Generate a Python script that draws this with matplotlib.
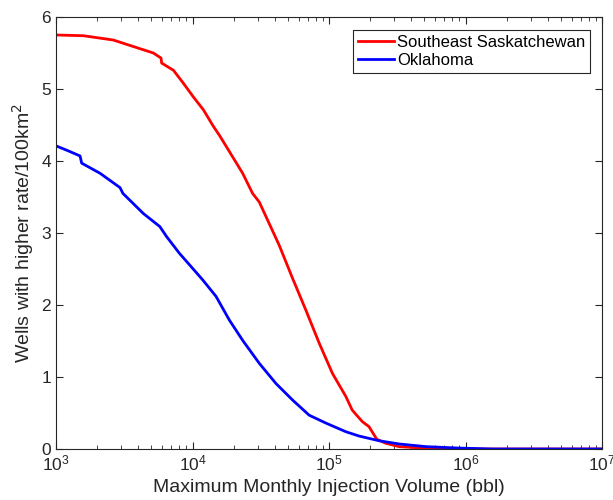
import matplotlib
matplotlib.use('Agg')
import matplotlib.pyplot as plt
import numpy as np

plt.rcParams['font.family'] = ['Liberation Sans', 'DejaVu Sans']

# log10 of injection volume and wells per 100 km^2
sask_logx = [3.0, 3.2, 3.42, 3.566, 3.713, 3.769, 3.774, 3.86, 3.933, 4.006, 4.08,
             4.153, 4.196, 4.293, 4.367, 4.44, 4.489, 4.562, 4.635, 4.733, 4.83,
             4.928, 5.025, 5.123, 5.17, 5.244, 5.293, 5.35, 5.415, 5.513, 5.708,
             6.0, 7.0]
sask_y = [5.75, 5.74, 5.68, 5.59, 5.50, 5.43, 5.36, 5.26, 5.08, 4.89, 4.71,
          4.48, 4.36, 4.06, 3.83, 3.55, 3.43, 3.13, 2.83, 2.37, 1.93,
          1.47, 1.05, 0.73, 0.54, 0.38, 0.31, 0.135, 0.08, 0.033, 0.01,
          0.0, 0.0]

okla_logx = [3.0, 3.078, 3.176, 3.188, 3.322, 3.469, 3.49, 3.64, 3.76, 3.81,
             3.903, 3.977, 4.074, 4.172, 4.27, 4.367, 4.489, 4.611, 4.733, 4.854,
             4.977, 5.123, 5.22, 5.366, 5.513, 5.708, 5.95, 6.2, 7.0]
okla_y = [4.21, 4.15, 4.07, 3.97, 3.83, 3.63, 3.55, 3.27, 3.09, 2.95,
          2.72, 2.56, 2.35, 2.12, 1.79, 1.51, 1.19, 0.91, 0.68, 0.47,
          0.36, 0.24, 0.18, 0.115, 0.07, 0.033, 0.013, 0.0, 0.0]

grey = '#262626'

fig = plt.figure(figsize=(6.13, 5.0), dpi=100)
ax = fig.add_axes([0.0914, 0.102, 0.8907, 0.864])

ax.plot(10 ** np.array(sask_logx), sask_y, color='#ff0000', lw=2, label='Southeast Saskatchewan')
ax.plot(10 ** np.array(okla_logx), okla_y, color='#0000ff', lw=2, label='Oklahoma')

ax.set_xscale('log')
ax.set_xlim(1e3, 1e7)
ax.set_ylim(0, 6)
ax.set_yticks([0, 1, 2, 3, 4, 5, 6])

ax.tick_params(which='both', direction='in', top=True, right=True, colors=grey, labelsize=12.5)
ax.tick_params(which='major', length=5)
ax.tick_params(which='minor', length=3)
for s in ax.spines.values():
    s.set_color(grey)
    s.set_linewidth(0.8)

ax.set_xlabel('Maximum Monthly Injection Volume (bbl)', fontsize=14, color=grey, labelpad=4)
ax.set_ylabel('Wells with higher rate/100km$^2$', fontsize=14, color=grey, labelpad=4)

leg = ax.legend(loc='upper right', bbox_to_anchor=(0.978, 0.97), fontsize=12, handlelength=2.2,
                handletextpad=0.15, borderpad=0.3, labelspacing=0.2, fancybox=False,
                framealpha=1, edgecolor=grey, borderaxespad=0)
leg.get_frame().set_linewidth(0.8)
for t in leg.get_texts():
    t.set_color('black')

fig.savefig('out.png', dpi=100)
